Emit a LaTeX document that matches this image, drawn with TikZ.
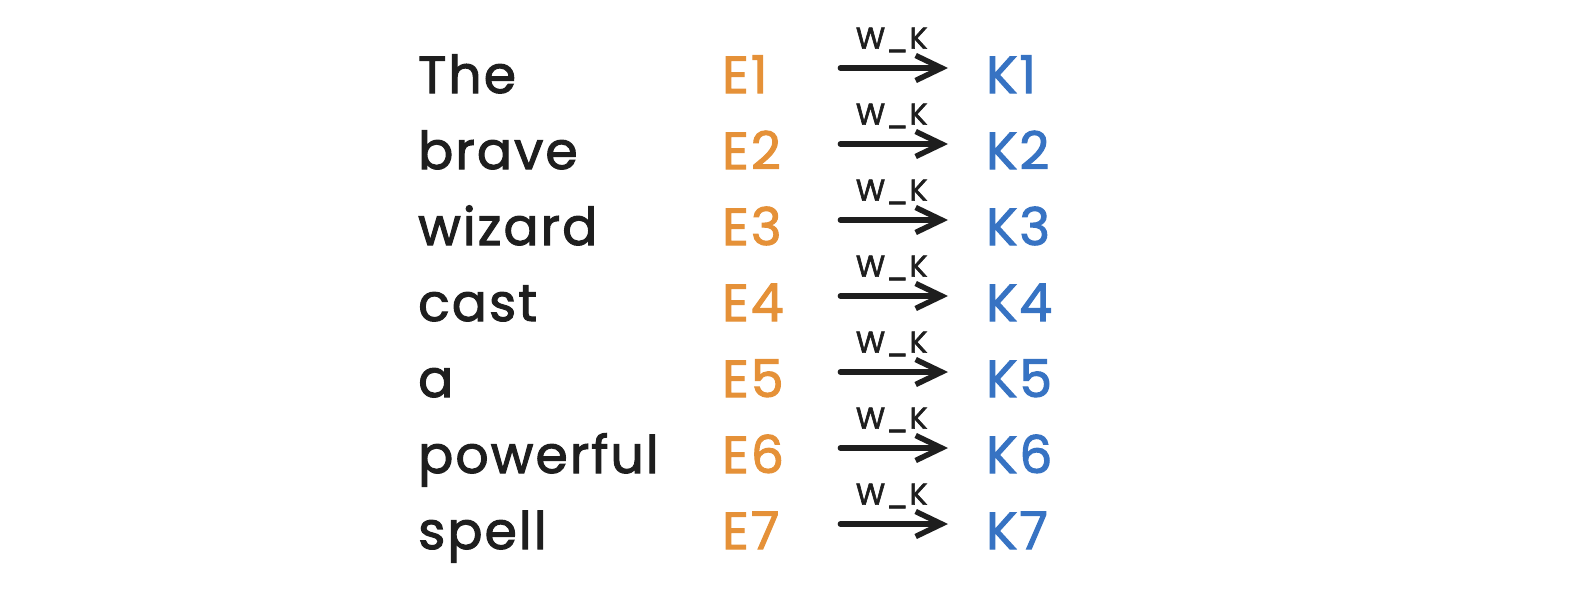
\documentclass[tikz,border=0pt]{standalone}
\usepackage{fontspec}
\setmainfont{Poppins}[LetterSpace=4,FakeBold=2]
\usetikzlibrary{arrows.meta}
\definecolor{eorange}{RGB}{229,145,56}
\definecolor{kblue}{RGB}{55,115,195}
\definecolor{ink}{RGB}{30,30,30}
\tikzset{
  word/.style={anchor=base west, inner sep=0pt, text=ink, font=\fontsize{52}{56}\selectfont},
  elab/.style={anchor=base west, inner sep=0pt, text=eorange, font=\fontsize{52}{56}\selectfont, text width=75pt},
  klab/.style={anchor=base west, inner sep=0pt, text=kblue, font=\fontsize{52}{56}\selectfont},
  wk/.style={line width=5.5pt, draw=ink, -{Straight Barb[length=26pt,width=25pt,line width=5.5pt]}, line cap=round, shorten <=43pt, shorten >=38pt},
  wklab/.style={above=13pt, inner sep=0pt, text=ink, font=\fontsize{30}{32}\selectfont}
}
\begin{document}
\begin{tikzpicture}[x=1pt,y=-1pt]
\useasboundingbox (0,0) rectangle (1588,608);
\foreach \i/\w/\y in {1/The/93,2/brave/169,3/wizard/245,4/cast/321,5/a/397,6/powerful/473,7/spell/549}{
  \node[word] (w\i) at (418,\y) {\w};
  \node[elab] (e\i) at (722,\y) {E\i};
  \node[klab] (k\i) at (986,\y) {K\i};
  \draw[wk] ([yshift=25pt]e\i.base east) -- node[wklab] (l\i) {W\_K} ([yshift=25pt]k\i.base west);
}
\end{tikzpicture}
\end{document}
